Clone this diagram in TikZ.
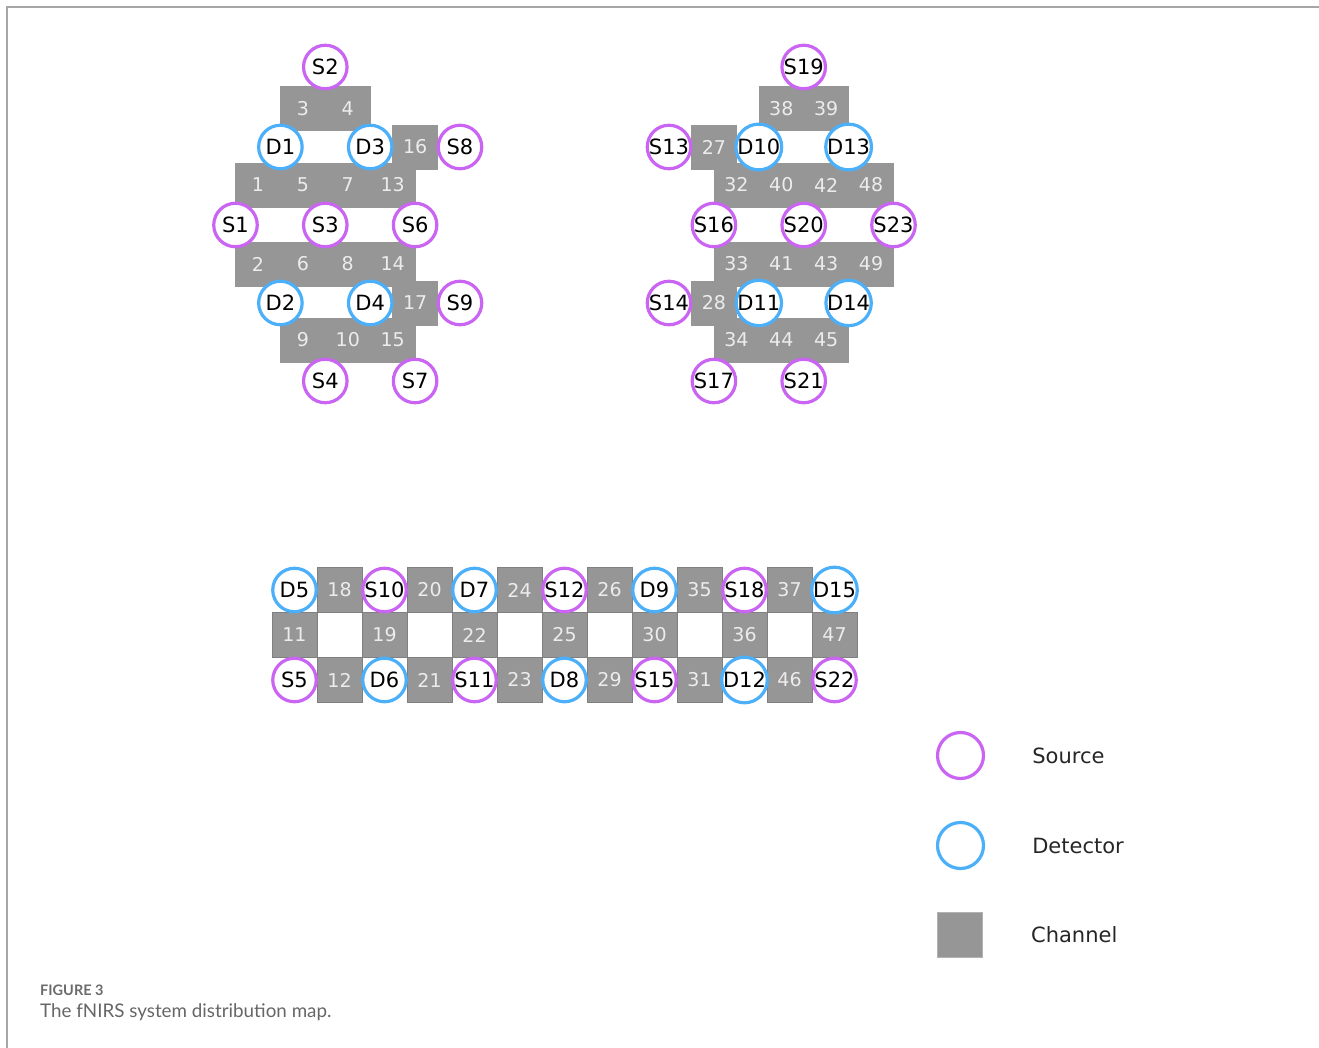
\documentclass[tikz,border=0pt]{standalone}
\usepackage{fontspec}
\setmainfont{DejaVu Sans}
\newfontfamily\didascalia{Lato}
\usepackage{xcolor}
\usetikzlibrary{positioning}
\definecolor{viola}{RGB}{202,100,242}
\definecolor{blu}{RGB}{75,175,250}
\definecolor{grigio}{RGB}{150,150,150}
\definecolor{bordo}{RGB}{128,128,128}
\definecolor{numero}{RGB}{236,236,236}
\tikzset{
  optodo/.style={circle,line width=3.2pt,fill=white,minimum size=43.5pt,inner sep=0pt,
    font=\fontsize{21}{21}\selectfont},
  sorgente/.style={optodo,draw=viola},
  rivelatore/.style={optodo,draw=blu},
  canale/.style={rectangle,fill=grigio,draw=grigio,line width=0.4pt,minimum width=44.9pt,
    minimum height=44pt,inner sep=0pt,text=numero,font=\fontsize{19}{19}\selectfont},
  canaleS/.style={canale,minimum width=45pt,minimum height=45pt,draw=bordo,line width=0.8pt},
  voce/.style={inner sep=0pt,font=\fontsize{21}{21}\selectfont,text=black!85},
  cornice/.style={draw=black!35,line width=2pt}
}

\begin{document}
\begin{tikzpicture}[x=1pt,y=-1pt]
\useasboundingbox (0,0) rectangle (1319,1048);
\draw[cornice] (7,1048) -- (7,7) -- (1319,7);

% gruppo sinistro
\begin{scope}[xshift=235.5pt,x=44.9pt]
  \foreach \n/\i/\j in {3/1.5/108.5, 4/2.5/108.5, 16/4/147,
      1/0.5/185, 5/1.5/185, 7/2.5/185, 13/3.5/185,
      2/0.5/264, 6/1.5/264, 8/2.5/264, 14/3.5/264, 17/4/303,
      9/1.5/340, 10/2.5/340, 15/3.5/340}
    \node[canale] (c\n) at (\i,\j) {\n};
  \foreach \n/\i/\j in {S2/2/67, S8/5/147, S1/0/225, S3/2/225, S6/4/225,
      S9/5/303, S4/2/381, S7/4/381}
    \node[sorgente] (\n) at (\i,\j) {\n};
  \foreach \n/\i/\j in {D1/1/147, D3/3/147, D2/1/303, D4/3/303}
    \node[rivelatore] (\n) at (\i,\j) {\n};
\end{scope}

% gruppo destro
\begin{scope}[xshift=669pt,x=44.9pt]
  \foreach \n/\i/\j in {38/2.5/108.5, 39/3.5/108.5, 27/1/147,
      32/1.5/185, 40/2.5/185, 42/3.5/185, 48/4.5/185,
      33/1.5/264, 41/2.5/264, 43/3.5/264, 49/4.5/264, 28/1/303,
      34/1.5/340, 44/2.5/340, 45/3.5/340}
    \node[canale] (c\n) at (\i,\j) {\n};
  \foreach \n/\i/\j in {S19/3/67, S13/0/147, S16/1/225, S20/3/225, S23/5/225,
      S14/0/303, S17/1/381, S21/3/381}
    \node[sorgente] (\n) at (\i,\j) {\n};
  \foreach \n/\i/\j in {D10/2/147, D13/4/147, D11/2/303, D14/4/303}
    \node[rivelatore] (\n) at (\i,\j) {\n};
\end{scope}

% striscia in basso
\begin{scope}[xshift=294.5pt,x=45pt]
  \foreach \n/\i/\j in {18/1/590, 20/3/590, 24/5/590, 26/7/590, 35/9/590, 37/11/590,
      11/0/635, 19/2/635, 22/4/635, 25/6/635, 30/8/635, 36/10/635, 47/12/635,
      12/1/680, 21/3/680, 23/5/680, 29/7/680, 31/9/680, 46/11/680}
    \node[canaleS] (c\n) at (\i,\j) {\n};
  \foreach \n/\i/\j in {S10/2/590, S12/6/590, S18/10/590,
      S5/0/680, S11/4/680, S15/8/680, S22/12/680}
    \node[sorgente] (\n) at (\i,\j) {\n};
  \foreach \n/\i/\j in {D5/0/590, D7/4/590, D9/8/590, D15/12/590,
      D6/2/680, D8/6/680, D12/10/680}
    \node[rivelatore] (\n) at (\i,\j) {\n};
\end{scope}

% legenda
\node[sorgente,minimum size=46pt] (legS) at (960.5,755.5) {};
\node[rivelatore,minimum size=46pt] (legD) at (960.5,845.5) {};
\node[canaleS,draw=black!30] (legC) at (960,934.5) {};
\node[voce,right=47pt of legS] (vS) {Source};
\node[voce,right=47pt of legD] (vD) {Detector};
\node[voce,right=48pt of legC] (vC) {Channel};

% didascalia
\node[anchor=west,inner sep=0pt,text=black!58,font=\didascalia\bfseries\fontsize{14.5}{14.5}\selectfont]
  (fig) at (40,990) {FIGURE 3};
\node[anchor=west,inner sep=0pt,text=black!60,font=\didascalia\fontsize{18.8}{18.8}\selectfont]
  (cap) at (40,1012.5) {The fNIRS system distribution map.};
\end{tikzpicture}
\end{document}
